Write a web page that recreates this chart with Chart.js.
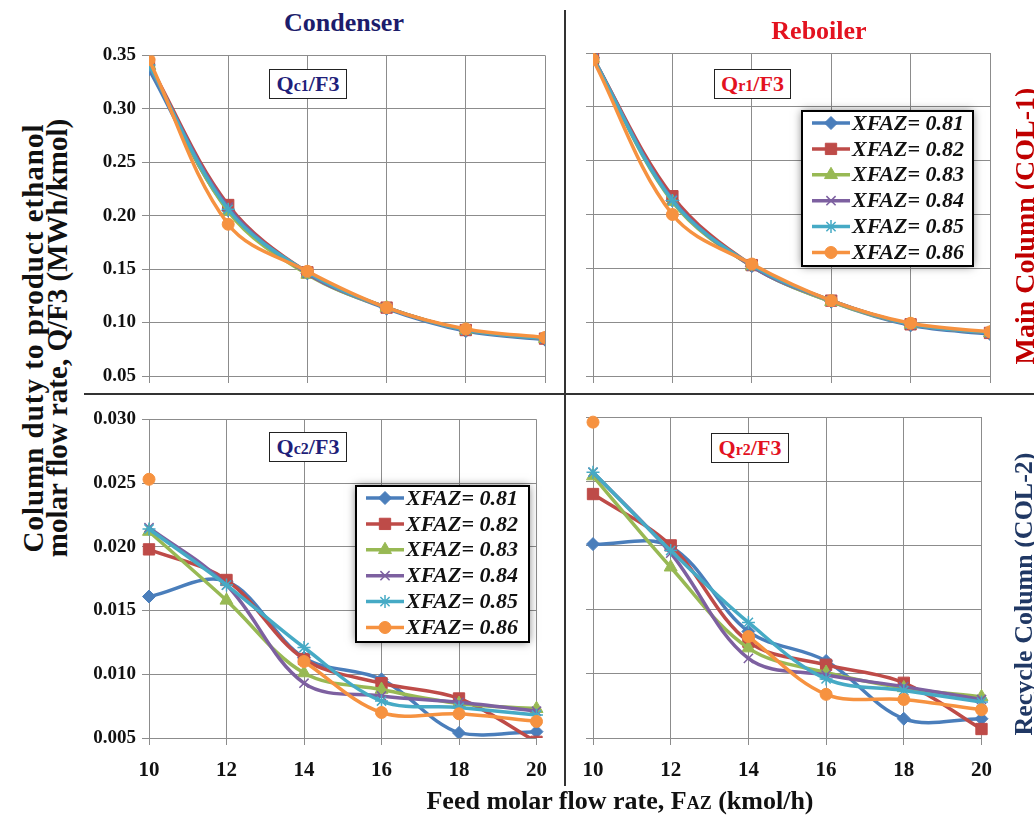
<!DOCTYPE html>
<html>
<head>
<meta charset="utf-8">
<title>Column duty per product ethanol</title>
<script src="https://cdn.jsdelivr.net/npm/chart.js@4/dist/chart.umd.min.js"></script>
<style>
  body { margin: 0; background: #fff; }
  #page { position: relative; width: 1034px; height: 817px; overflow: hidden; background: #fff;
          font-family: "Liberation Serif", "Times New Roman", serif; font-weight: bold; }
  canvas { position: absolute; }
  .txt { position: absolute; white-space: nowrap; text-align: center; }
  .rot { position: absolute; white-space: nowrap; text-align: center; transform: rotate(-90deg); }
  .tag { position: absolute; box-sizing: border-box; border: 1.5px solid #222; background: #fff;
         text-align: center; font-size: 22px; line-height: 27px; }
  .tag small { font-size: 16px; }
  .sep { position: absolute; background: #333; }
</style>
</head>
<body>
<div id="page">
  <canvas id="qc1" width="471" height="388" style="left:89px;top:38px"></canvas>
  <canvas id="qr1" width="472" height="388" style="left:533px;top:38px"></canvas>
  <canvas id="qc2" width="471" height="386" style="left:89px;top:402px"></canvas>
  <canvas id="qr2" width="472" height="386" style="left:533px;top:402px"></canvas>

  <div class="sep" style="left:564px;top:10px;width:2px;height:776px"></div>
  <div class="sep" style="left:84px;top:393px;width:950px;height:2px"></div>

  <div class="txt" style="left:244px;top:8px;width:200px;font-size:26px;line-height:30px;color:#1c1c6b">Condenser</div>
  <div class="txt" style="left:719px;top:16px;width:200px;font-size:26px;line-height:30px;color:#e3121f">Reboiler</div>

  <div class="tag" style="left:269px;top:69px;width:78px;height:30px;color:#1f1f7a">Q<small>c1</small>/F3</div>
  <div class="tag" style="left:714px;top:69px;width:77px;height:30px;color:#e3121f">Q<small>r1</small>/F3</div>
  <div class="tag" style="left:269px;top:432px;width:78px;height:30px;color:#1f1f7a">Q<small>c2</small>/F3</div>
  <div class="tag" style="left:711px;top:433px;width:78px;height:30px;color:#e3121f">Q<small>r2</small>/F3</div>

  <div class="rot" style="left:-217px;top:323px;width:500px;height:30px;font-size:29px;line-height:30px;letter-spacing:1px;color:#111">Column duty to product ethanol</div>
  <div class="rot" style="left:-193px;top:323px;width:500px;height:30px;font-size:29px;line-height:30px;color:#111">molar flow rate, Q/F3 (MWh/kmol)</div>

  <div class="rot" style="left:825px;top:211px;width:400px;height:30px;font-size:28px;line-height:30px;color:#c00000">Main Column (COL-1)</div>
  <div class="rot" style="left:824px;top:579px;width:400px;height:30px;font-size:26px;line-height:30px;color:#203864">Recycle Column (COL-2)</div>

  <div class="txt" style="left:370px;top:786px;width:500px;font-size:26px;line-height:30px;color:#111">Feed molar flow rate, F<span style="font-size:18px">AZ</span> (kmol/h)</div>
</div>

<script>
// feed molar flow rate FAZ (kmol/h)
const feedRates = [10, 12, 14, 16, 18, 20];
const xfazLabels = ['XFAZ= 0.81', 'XFAZ= 0.82', 'XFAZ= 0.83', 'XFAZ= 0.84', 'XFAZ= 0.85', 'XFAZ= 0.86'];

// Main column condenser duty Qc1/F3, one row per XFAZ
const qc1 = [
  [0.337, 0.205, 0.146, 0.113, 0.092, 0.084],
  [0.342, 0.210, 0.147, 0.114, 0.093, 0.085],
  [0.341, 0.204, 0.145, 0.114, 0.093, 0.085],
  [0.340, 0.208, 0.146, 0.114, 0.093, 0.085],
  [0.341, 0.206, 0.147, 0.114, 0.093, 0.085],
  [0.346, 0.192, 0.148, 0.114, 0.094, 0.086]
];

// Main column reboiler duty Qr1/F3
const qr1 = [
  [0.346, 0.213, 0.152, 0.119, 0.097, 0.089],
  [0.345, 0.217, 0.153, 0.120, 0.098, 0.090],
  [0.345, 0.212, 0.152, 0.119, 0.098, 0.090],
  [0.345, 0.214, 0.152, 0.120, 0.098, 0.090],
  [0.345, 0.213, 0.153, 0.120, 0.098, 0.090],
  [0.344, 0.200, 0.154, 0.120, 0.099, 0.091]
];

// Recycle column condenser duty Qc2/F3
const qc2 = [
  [0.0161, 0.0173, 0.0113, 0.0096, 0.0054, 0.0055],
  [0.0198, 0.0174, 0.0112, 0.0093, 0.0081, 0.0047],
  [0.0212, 0.0158, 0.0101, 0.0088, 0.0077, 0.0073],
  [0.0215, 0.0170, 0.0093, 0.0083, 0.0078, 0.0071],
  [0.0214, 0.0170, 0.0121, 0.0079, 0.0074, 0.0068],
  [0.0253, null,   0.0110, 0.0070, 0.0069, 0.0063]
];

// Recycle column reboiler duty Qr2/F3
const qr2 = [
  [0.0201, 0.0199, 0.0133, 0.0110, 0.0065, 0.0065],
  [0.0240, 0.0200, 0.0125, 0.0107, 0.0093, 0.0057],
  [0.0254, 0.0183, 0.0120, 0.0101, 0.0089, 0.0082],
  [0.0257, 0.0194, 0.0112, 0.0099, 0.0090, 0.0080],
  [0.0257, 0.0196, 0.0140, 0.0096, 0.0087, 0.0078],
  [0.0296, null,   0.0129, 0.0084, 0.0080, 0.0072]
];

const seriesColors = ['#4a7ebb', '#be4b48', '#98b954', '#7d60a0', '#46aac5', '#f69240'];
const markerStyles = ['rectRot', 'rect', 'triangle', 'crossRot', 'star', 'circle'];
const markerSizes = [6.5, 8, 7.5, 6.5, 6.5, 6];

const FONT = '"Liberation Serif", "Times New Roman", serif';
const gridColor = '#8c8c8c';

// legend drawn inside the plot, with a soft shadow like the Excel original
const boxLegend = {
  id: 'boxLegend',
  afterDatasetsDraw(chart, args, opts) {
    if (!opts || !opts.box) return;
    const ctx = chart.ctx;
    const x = opts.box.x - chart.canvas.offsetLeft;
    const y = opts.box.y - chart.canvas.offsetTop;
    const w = opts.box.w, h = opts.box.h;
    ctx.save();
    ctx.shadowColor = 'rgba(0,0,0,0.55)';
    ctx.shadowBlur = 9;
    ctx.fillStyle = '#fff';
    ctx.fillRect(x, y, w, h);
    ctx.restore();
    ctx.save();
    ctx.lineWidth = 2;
    ctx.strokeStyle = '#000';
    ctx.strokeRect(x, y, w, h);
    chart.data.datasets.forEach((ds, i) => {
      const cy = y + 12 + i * 25.9;
      ctx.strokeStyle = ds.borderColor;
      ctx.lineWidth = 3.5;
      ctx.beginPath();
      ctx.moveTo(x + 10, cy);
      ctx.lineTo(x + 48, cy);
      ctx.stroke();
      ctx.fillStyle = ds.borderColor;
      ctx.lineWidth = ds.pointBorderWidth;
      Chart.helpers.drawPoint(ctx, {
        pointStyle: ds.pointStyle, radius: ds.pointRadius, borderWidth: ds.pointBorderWidth, rotation: 0
      }, x + 29, cy);
      ctx.fillStyle = '#111';
      ctx.font = 'italic bold 22px ' + FONT;
      ctx.textBaseline = 'middle';
      ctx.textAlign = 'left';
      ctx.fillText(ds.label, x + 50, cy + 1);
    });
    ctx.restore();
  }
};

function makePanel(id, rows, cfg) {
  const datasets = rows.map((vals, i) => ({
    label: xfazLabels[i],
    data: vals.map((v, k) => ({ x: feedRates[k], y: v })),
    borderColor: seriesColors[i],
    backgroundColor: seriesColors[i],
    borderWidth: 3.5,
    pointStyle: markerStyles[i],
    pointRadius: markerSizes[i],
    pointBorderWidth: (i === 3 || i === 4) ? 1.5 : 1,
    tension: 0.35,
    order: 6 - i,
    clip: cfg.clip
  }));

  new Chart(document.getElementById(id), {
    type: 'line',
    data: { datasets },
    options: {
      responsive: false,
      animation: false,
      devicePixelRatio: 1,
      layout: { padding: { top: 15, right: 15, left: 0, bottom: 0 } },
      plugins: {
        legend: { display: false },
        tooltip: { enabled: false },
        boxLegend: cfg.legend ? { box: cfg.legend } : false
      },
      scales: {
        x: {
          type: 'linear', min: 10, max: 20,
          ticks: { stepSize: 2, display: cfg.xLabels, color: '#111', padding: 13,
                   font: { family: FONT, size: 21, weight: 'bold' } },
          grid: { color: gridColor, tickColor: gridColor, tickLength: 7 },
          border: { color: gridColor },
          afterFit: s => { s.height = 50; }
        },
        y: {
          min: cfg.yMin, max: cfg.yMax,
          ticks: { stepSize: cfg.step, display: cfg.yLabels, color: '#111', padding: 6,
                   font: { family: FONT, size: 19, weight: 'bold' },
                   callback: v => v.toFixed(cfg.dec) },
          grid: { color: gridColor, tickColor: gridColor, tickLength: 7 },
          border: { color: gridColor },
          afterFit: s => { s.width = 60; }
        }
      }
    },
    plugins: [boxLegend]
  });
}

const bottomClip = { left: 12, top: 12, right: 12, bottom: 0 };

makePanel('qc1', qc1, { yMin: 0.05, yMax: 0.35, step: 0.05, dec: 2, xLabels: false, yLabels: true });
makePanel('qr1', qr1, { yMin: 0.05, yMax: 0.35, step: 0.05, dec: 2, xLabels: false, yLabels: false,
                        legend: { x: 802, y: 111, w: 171, h: 155 } });
makePanel('qc2', qc2, { yMin: 0.005, yMax: 0.030, step: 0.005, dec: 3, xLabels: true, yLabels: true,
                        clip: bottomClip, legend: { x: 356, y: 486, w: 173, h: 156 } });
makePanel('qr2', qr2, { yMin: 0.005, yMax: 0.030, step: 0.005, dec: 3, xLabels: true, yLabels: false,
                        clip: bottomClip });
</script>
</body>
</html>
